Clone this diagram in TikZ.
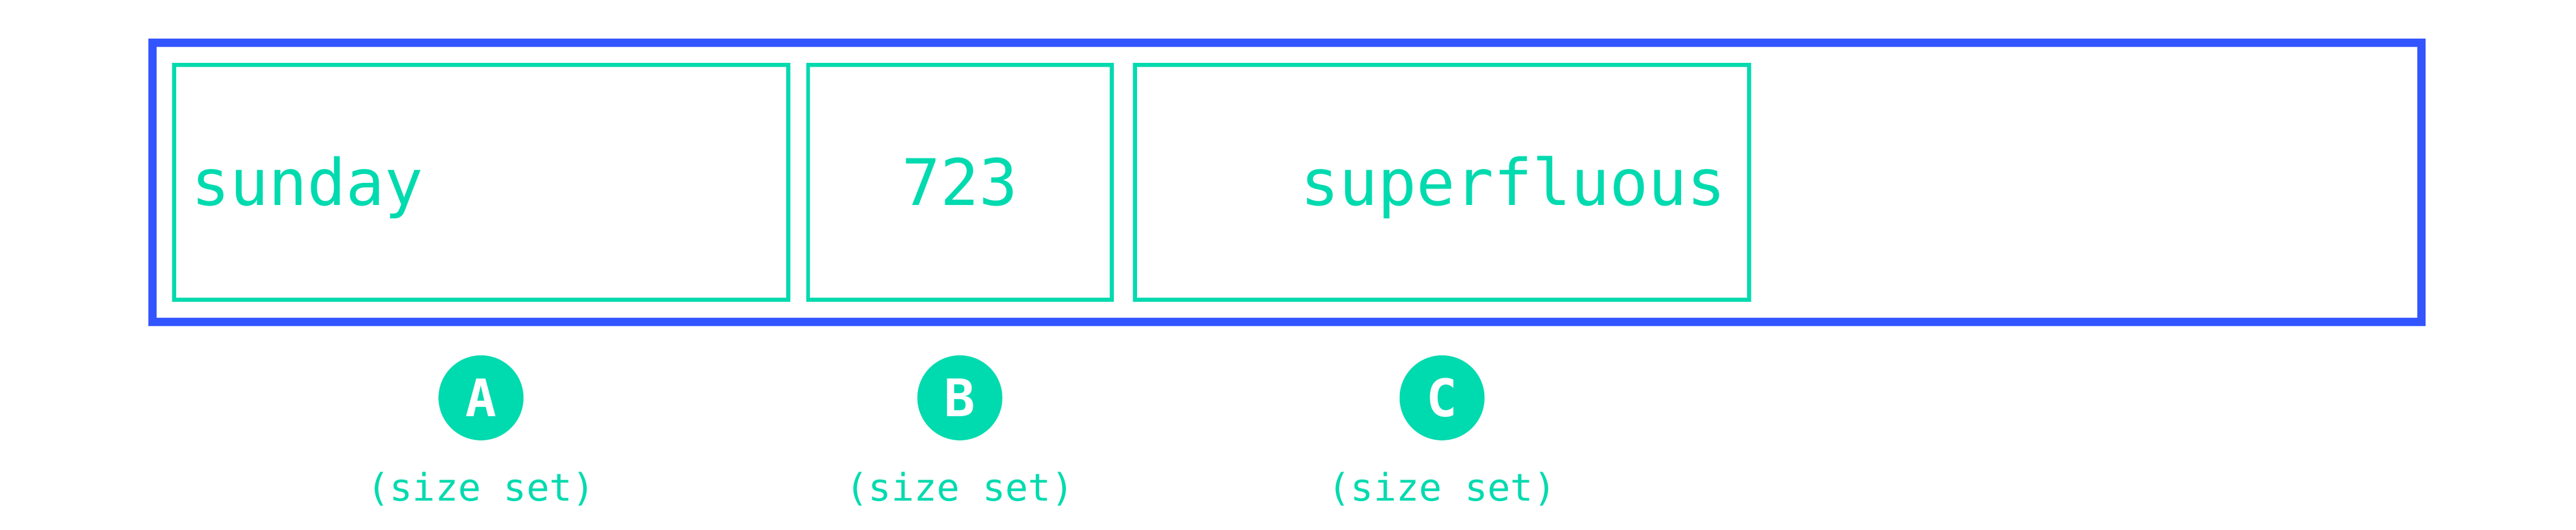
\documentclass[tikz,border=0pt]{standalone}
\usepackage{fontspec}
\usepackage{tikz}
\usetikzlibrary{positioning}
\newfontfamily\monofont{DejaVu Sans Mono}
\definecolor{mint}{RGB}{0,218,175}
\definecolor{royal}{RGB}{51,85,255}
\tikzset{
    %Define style for the outer row
    rowbox/.style={
           rectangle,
           draw=royal, line width=1.7pt,
           minimum width=469.8pt,
           minimum height=57.8pt,
           inner sep=0pt},
    %Define style for the cells
    cell/.style={
           rectangle,
           draw=mint, line width=0.85pt,
           minimum height=48.65pt,
           inner xsep=3.6pt, inner ysep=0pt,
           text height=9.45pt, text depth=0pt,
           text=mint,
           font=\monofont\fontsize{13.3pt}{15pt}\selectfont},
    widecell/.style={
           cell,
           text width=119.95pt},
    %Define style for the letters below
    badge/.style={
           circle,
           fill=mint,
           minimum size=17.6pt,
           inner sep=0pt,
           text=white,
           font=\monofont\bfseries\fontsize{10.7pt}{12pt}\selectfont},
    note/.style={
           inner sep=0pt,
           text=mint,
           font=\monofont\fontsize{7.85pt}{9pt}\selectfont}
}
\begin{document}
\begin{tikzpicture}[node distance=3.3pt]
\useasboundingbox (0,0) rectangle (533.4pt,109.7pt);
\node[rowbox](row) at (266.45pt,71.95pt){};
\node[widecell, align=left, right=4.9pt of row.west](sun){sunday};
\node[cell, minimum width=62.85pt, right=of sun](num){723};
\node[widecell, align=right, inner xsep=4.8pt, text width=117.55pt, right=4pt of num](word){superfluous};
\node[badge, below=10.9pt of sun](a){A};
\node[badge, below=10.9pt of num](b){B};
\node[badge, below=10.9pt of word](c){C};
\node[note, below=6.2pt of a](la){(size set)};
\node[note, below=6.2pt of b](lb){(size set)};
\node[note, below=6.2pt of c](lc){(size set)};
\end{tikzpicture}
\end{document}
